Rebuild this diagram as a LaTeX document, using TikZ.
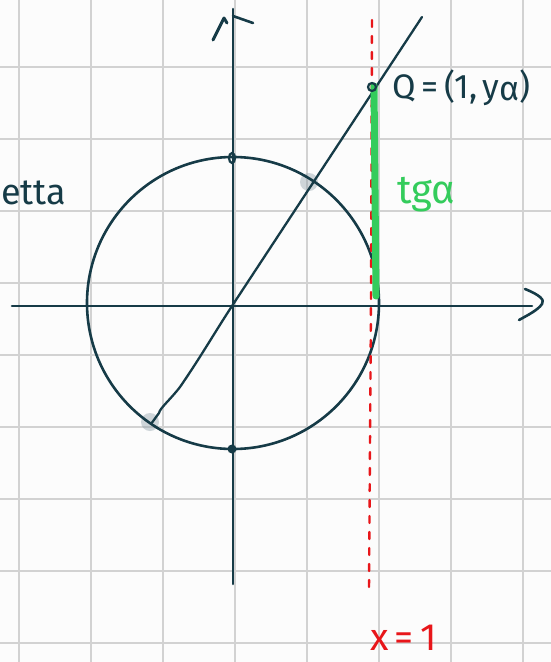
\documentclass[tikz,border=0pt]{standalone}
\usepackage{fontspec}
\setmainfont{Fira Sans}
\definecolor{ink}{HTML}{163B47}
\definecolor{gridc}{HTML}{D2D2D2}
\definecolor{bg}{HTML}{FCFCFC}
\definecolor{grn}{HTML}{34CC5C}
\definecolor{redc}{HTML}{E8161A}
\definecolor{blobc}{HTML}{8A9CA6}
\begin{document}
\begin{tikzpicture}[x=1pt,y=-1pt,
  gridline/.style={gridc,line width=2.2pt},
  inkline/.style={ink,line width=2.6pt,line cap=round,line join=round},
  blob/.style={fill=blobc,fill opacity=0.4},
  lbl/.style={inner sep=0pt}]
\fill[bg] (0,0) rectangle (551,662);
\useasboundingbox (0,0) rectangle (551,662);
% grid
\foreach \gx in {19,91,163,235,307,379,451,523}
  \draw[gridline] (\gx,0) -- (\gx,662);
\foreach \gy in {67,139,211,283,355,427,499,571,643}
  \draw[gridline] (0,\gy) -- (551,\gy);
% key points
\coordinate (O) at (232,306);
\coordinate (C) at (233,303);
\coordinate (Q) at (372,87);
\coordinate (Pp) at (151,424);
\coordinate (Lend) at (422,17);
\coordinate (Ytop) at (233,9);
\coordinate (Ybot) at (233,584);
\coordinate (Xl) at (12,306);
\coordinate (Xr) at (532,306);
\coordinate (Rtop) at (372,20);
\coordinate (Rbot) at (369,590);
\coordinate (Gtop) at (374,86);
\coordinate (Gbot) at (376,296);
% blobs
\fill[blob] (309,182) circle (9);
\fill[blob] (150,422) circle (9);
% circle
\draw[inkline] (C) circle (146);
% axes
\draw[inkline] (Xl) -- (Xr);
\draw[inkline] (525,289) .. controls (540,295) and (545,300) .. (542,304)
  .. controls (538,310) and (528,315) .. (519,320);
\draw[inkline] (Ybot) -- (Ytop);
\draw[inkline,line width=3pt] (213,40) -- (224,18) -- (227,23);
\draw[inkline] (233,16) -- (253,23);
% red dashed line x=1
\draw[redc,line width=2.4pt,dash pattern=on 7pt off 9pt,line cap=round] (Rtop) -- (371,300) -- (Rbot);
% line through origin
\draw[inkline,line width=2.3pt] (Lend) -- (O) .. controls (215,332) and (200,358) .. (180,387)
  .. controls (170,400) and (160,408) .. (159,413) -- (Pp);
% green segment
\draw[grn,line width=7pt,line cap=round] (Gtop) -- (375,190) -- (Gbot);
% markers
\draw[ink,line width=2.2pt] (Q) circle (4);
\draw[ink,line width=2.2pt] (232,158) ellipse (3 and 5);
\fill[ink] (232,449) circle (4.5);
% labels
\node[lbl,ink,anchor=base west,font=\fontsize{34}{36}\selectfont] (qlab) at (392,98) {Q\,=\,(1,\,y\raisebox{-2pt}{α})};
\node[lbl,grn,anchor=base west,font=\fontsize{40}{42}\selectfont] (tglab) at (397,203) {tgα};
\node[lbl,ink,anchor=base west,font=\fontsize{36}{38}\selectfont] (retta) at (1,204) {etta};
\node[lbl,redc,anchor=base west,font=\fontsize{38}{40}\selectfont] (xlab) at (370,650) {x\,=\,1};
\end{tikzpicture}
\end{document}
